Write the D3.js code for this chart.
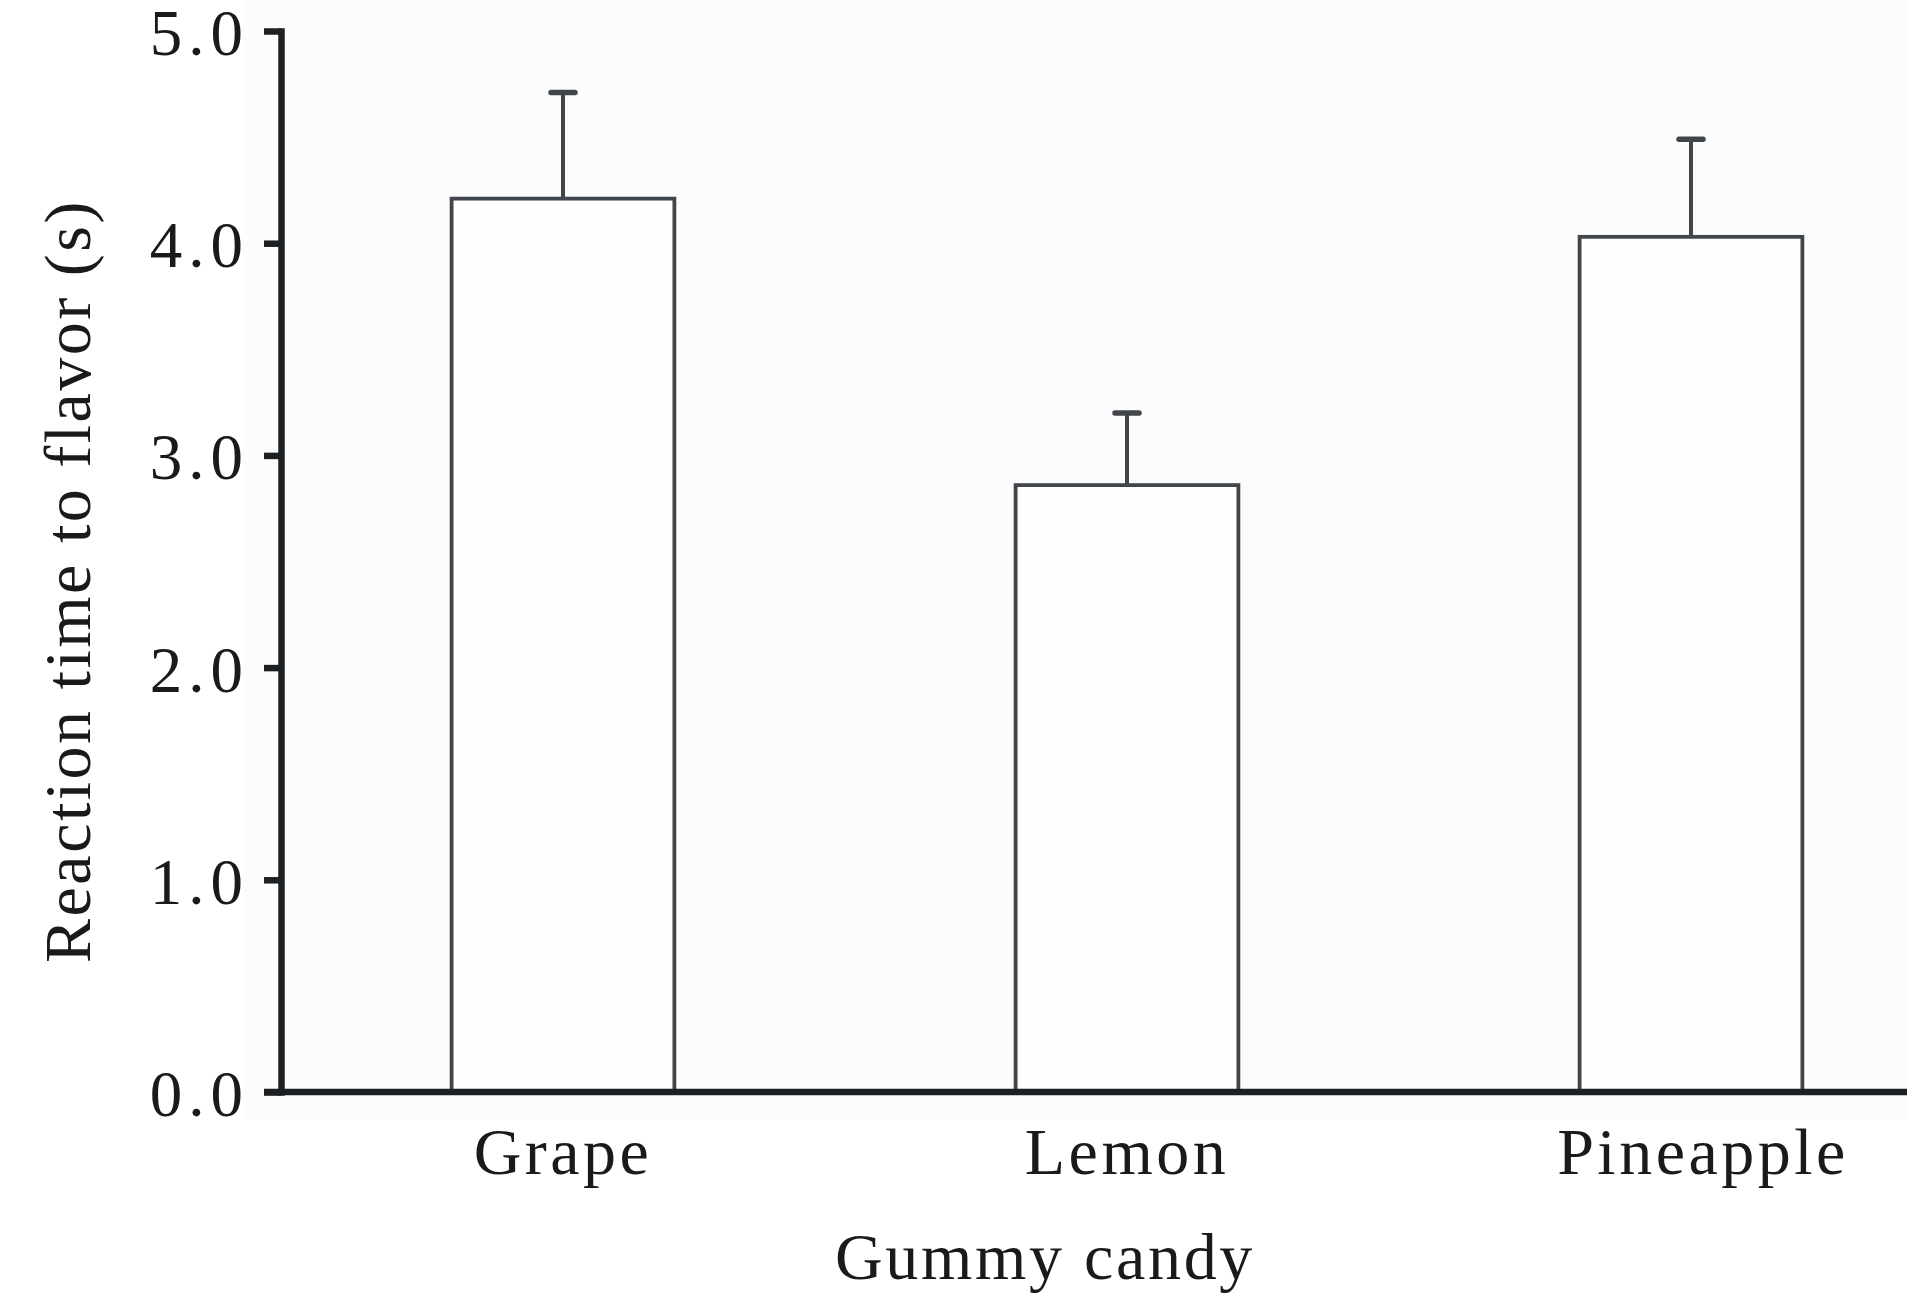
<!DOCTYPE html>
<html lang="en">
<head>
<meta charset="utf-8">
<title>gummy candy reaction time</title>
<style>
html,body {padding:0; margin:0; background:#fff;}
svg {display:block;}
text {font-family:"Liberation Serif","Times New Roman",serif; fill:#1a1a1a;}
</style>
<script src="https://d3js.org/d3.v7.min.js"></script>
</head>
<body>
<script>
// values: mean reaction time (s) and upper error
var candies = ['Grape', 'Lemon', 'Pineapple']
var means = [4.21, 2.86, 4.03]
var errs = [0.50, 0.34, 0.46]
var yTicks = [0, 1, 2, 3, 4, 5]
var xTitle = 'Gummy candy'
var yTitle = 'Reaction time to flavor (s)'

function draw() {
  let W = 1907, H = 1316
  let m = {left: 281, top: 31, bottom: 224}
  let y0 = H - m.bottom

  let svg = d3.select('body').append('svg').attr('width', W).attr('height', H)

  // faint grey plot background as in the scan
  svg.append('rect').attr('x', 243).attr('y', 0).attr('width', W - 243).attr('height', 1120).attr('fill', '#fcfcfc')

  let x = d3.scaleBand().domain(candies).range([m.left, m.left + 3 * 564]).paddingInner(0.605).paddingOuter(0.3025)
  let y = d3.scaleLinear().domain([0, 5]).range([y0, m.top])

  let data = candies.map(function(c, i) { return {name: c, v: means[i], e: errs[i]} })

  // bars
  svg.append('g').selectAll('rect').data(data).join('rect')
    .attr('x', function(d) { return x(d.name) })
    .attr('y', function(d) { return y(d.v) })
    .attr('width', x.bandwidth())
    .attr('height', function(d) { return y0 - y(d.v) })
    .attr('fill', '#fefefe')
    .attr('stroke', '#40464b')
    .attr('stroke-width', 3.8)

  // error bars (upper only)
  let eb = svg.append('g').attr('stroke', '#40464b')
  eb.selectAll('line.v').data(data).join('line').attr('class', 'v')
    .attr('x1', function(d) { return x(d.name) + x.bandwidth() / 2 })
    .attr('x2', function(d) { return x(d.name) + x.bandwidth() / 2 })
    .attr('y1', function(d) { return y(d.v) })
    .attr('y2', function(d) { return y(d.v + d.e) })
    .attr('stroke-width', 4)
  eb.selectAll('line.cap').data(data).join('line').attr('class', 'cap')
    .attr('x1', function(d) { return x(d.name) + x.bandwidth() / 2 - 12 })
    .attr('x2', function(d) { return x(d.name) + x.bandwidth() / 2 + 12 })
    .attr('y1', function(d) { return y(d.v + d.e) })
    .attr('y2', function(d) { return y(d.v + d.e) })
    .attr('stroke-width', 5.5)
    .attr('stroke-linecap', 'round')

  // y axis
  let yAxis = d3.axisLeft(y).tickValues(yTicks).tickFormat(d3.format('.1f')).tickSize(17).tickSizeOuter(0).tickPadding(15)
  let gy = svg.append('g').attr('transform', `translate(${m.left},0)`).call(yAxis)
  gy.select('.domain').attr('stroke', '#1c2023').attr('stroke-width', 6.5).attr('stroke-linecap', 'square')
  gy.selectAll('.tick line').attr('stroke', '#1c2023').attr('stroke-width', 6.5)
  gy.selectAll('.tick text')
    .style('font-family', '"Liberation Serif", serif').attr('font-size', 65).attr('fill', '#1a1a1a')
    .attr('letter-spacing', 6).attr('dy', '0.36em')

  // x axis
  let xAxis = d3.axisBottom(x).tickSize(0).tickPadding(0)
  let gx = svg.append('g').attr('transform', `translate(0,${y0})`).call(xAxis)
  gx.select('.domain').remove()
  gx.append('line').attr('x1', m.left - 17).attr('x2', W).attr('y1', 0).attr('y2', 0)
    .attr('stroke', '#1c2023').attr('stroke-width', 6.5)
  gx.selectAll('.tick text')
    .style('font-family', '"Liberation Serif", serif').attr('font-size', 66).attr('fill', '#1a1a1a')
    .attr('letter-spacing', 3.5).attr('y', 82).attr('dy', 0)
    .attr('dx', function(d) { return d == 'Pineapple' ? 12 : 0 })

  // titles
  svg.append('text').attr('x', 1045).attr('y', 1279).attr('text-anchor', 'middle')
    .attr('font-size', 66).attr('letter-spacing', 2.7).text(xTitle)
  svg.append('text').attr('transform', 'translate(90,581) rotate(-90)').attr('text-anchor', 'middle')
    .attr('font-size', 66).attr('letter-spacing', 2.5).text(yTitle)
}

draw()
</script>
</body>
</html>
